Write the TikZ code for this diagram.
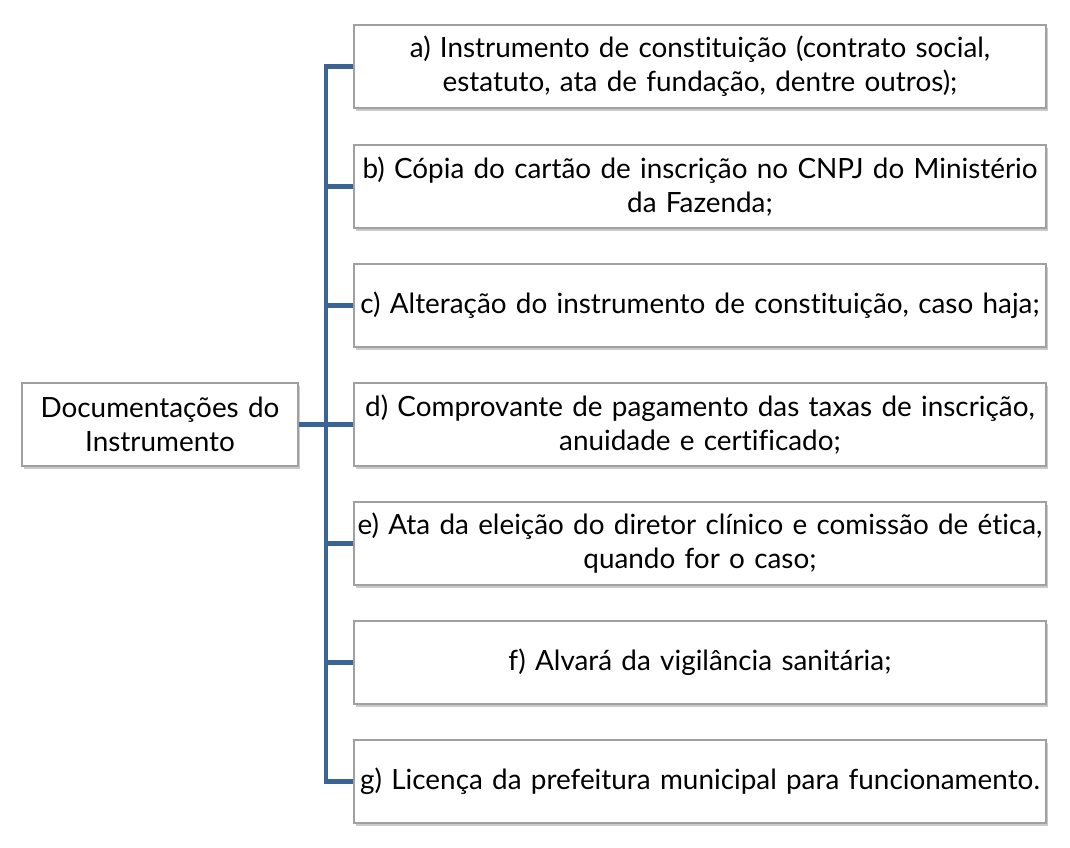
\documentclass[tikz,border=0pt]{standalone}
\usepackage{fontspec}
\setmainfont{Lato}[Ligatures=NoCommon]
\usetikzlibrary{shadows}
\definecolor{linkblue}{HTML}{3A6496}
\definecolor{boxgray}{HTML}{A0A0A0}
\tikzset{
  docbox/.style={draw=boxgray, line width=0.8pt, fill=white, align=center,
    inner sep=0pt, minimum height=83*0.75pt,
    font=\fontsize{20.9}{25.5}\selectfont,
    drop shadow={shadow xshift=1.5pt, shadow yshift=-2pt, opacity=0.35, fill=black!60}},
  itembox/.style={docbox, minimum width=692*0.75pt, text width=686*0.75pt},
  rootbox/.style={docbox, minimum width=276*0.75pt, text width=270*0.75pt},
  link/.style={draw=linkblue, line width=3.6pt, line join=miter}
}
\begin{document}
\begin{tikzpicture}[x=0.75pt,y=-0.75pt]
\useasboundingbox (0,0) rectangle (1070,848);
\coordinate (trunk) at (326,0);
\node[rootbox] (root) at (160,424.5) {Documentações do\\Instrumento};
\node[itembox] (a) at (700,66.5) {a) Instrumento de constituição (contrato social,\\estatuto, ata de fundação, dentre outros);};
\node[itembox] (b) at (700,186.5) {b) Cópia do cartão de inscrição no CNPJ do Ministério\\da Fazenda;};
\node[itembox] (c) at (700,305.5) {c) Alteração do instrumento de constituição, caso haja;};
\node[itembox] (d) at (700,424.5) {d) Comprovante de pagamento das taxas de inscrição,\\anuidade e certificado;};
\node[itembox] (e) at (700,543.5) {e) Ata da eleição do diretor clínico e comissão de ética,\\quando for o caso;};
\node[itembox] (f) at (700,662.5) {f) Alvará da vigilância sanitária;};
\node[itembox] (g) at (700,781.5) {g) Licença da prefeitura municipal para funcionamento.};
\draw[link] (a.west) -- (a.west -| trunk) -- (g.west -| trunk) -- (g.west);
\draw[link] (root.east) -- (root.east -| trunk);
\foreach \n in {b,c,d,e,f} \draw[link] (\n.west -| trunk) -- (\n.west);
\end{tikzpicture}
\end{document}
